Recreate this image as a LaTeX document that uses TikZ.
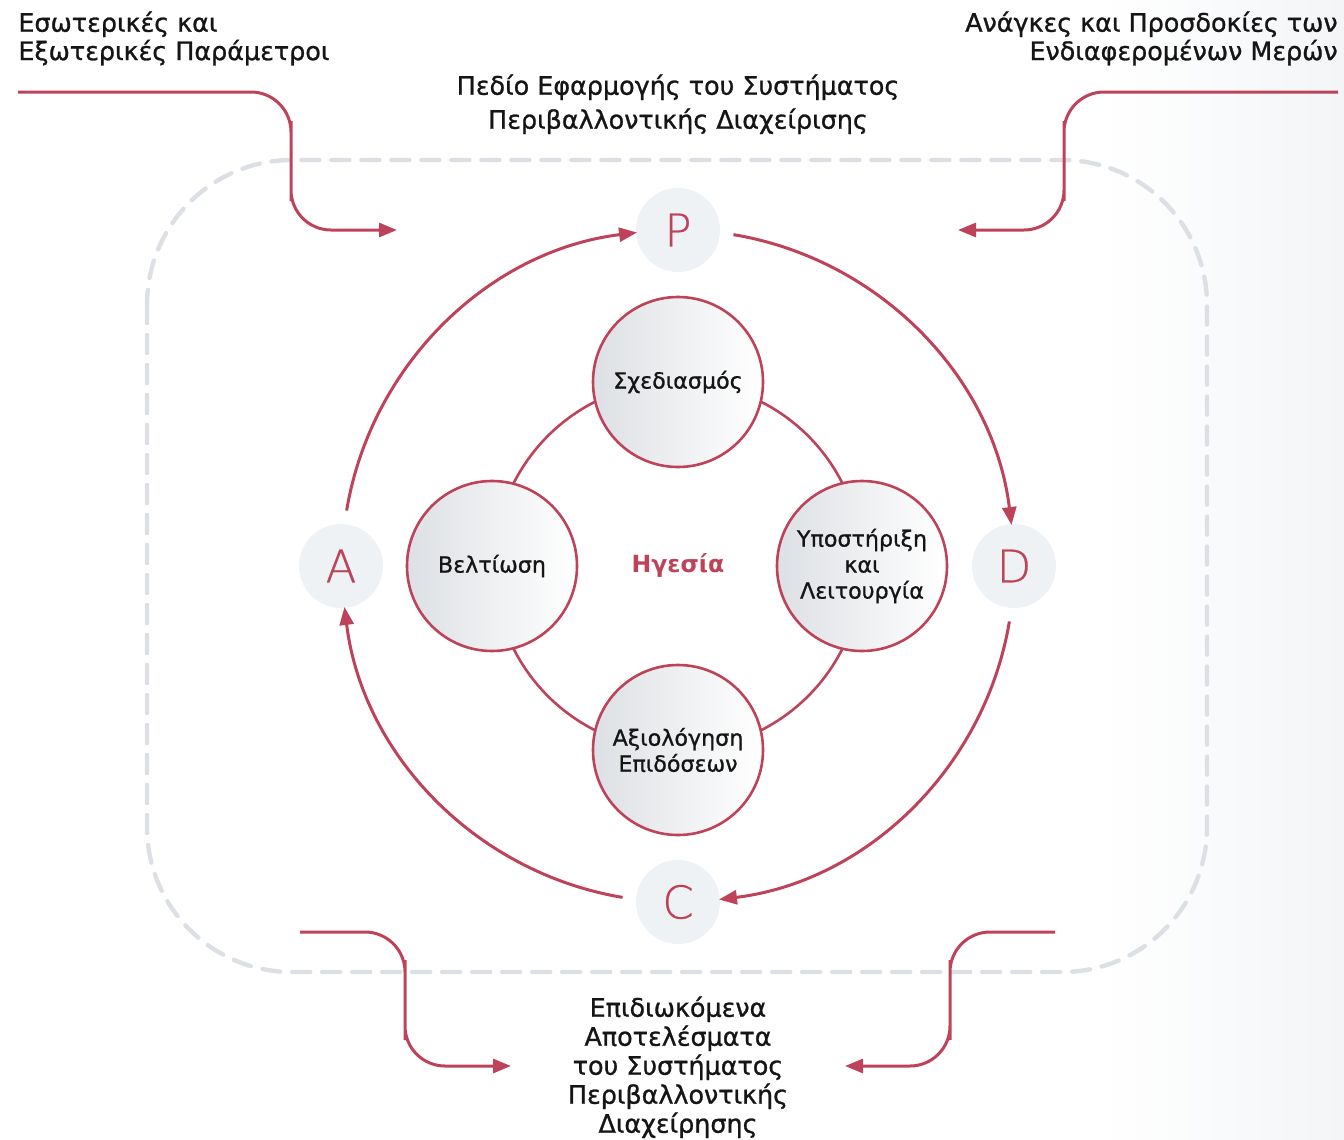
\documentclass[tikz,border=0pt]{standalone}
\usepackage{fontspec}
\setmainfont{DejaVu Sans}
\newfontfamily\thinfont{DejaVu Sans ExtraLight}[FakeBold=0.6]
\newfontfamily\midfont{DejaVu Sans}[FakeBold=1.0]
\usepackage{tikz}
\usetikzlibrary{arrows.meta}
\definecolor{wine}{HTML}{BE4259}
\definecolor{pale}{HTML}{EEF2F5}
\definecolor{dashgrey}{HTML}{DCE0E5}
\definecolor{shadegrey}{HTML}{DDE0E4}
\definecolor{edgegrey}{HTML}{F3F5F7}
\definecolor{ink}{HTML}{151515}

\begin{document}
\begin{tikzpicture}[x=0.5pt,y=-0.5pt,
	phase/.style={circle,fill=pale,minimum size=42pt,inner sep=0pt,text=wine,font=\thinfont\fontsize{22.5}{22.5}\selectfont},
	stage/.style={circle,draw=wine,line width=1.3pt,left color=shadegrey,right color=white,minimum size=85pt,inner sep=0pt,align=center,text=ink,font=\midfont\fontsize{11.1}{13}\selectfont},
	heading/.style={inner sep=0pt,text=ink,font=\midfont\fontsize{12.7}{14.2}\selectfont},
	loopline/.style={wine,line width=1.5pt,-{Triangle[length=9pt,width=7pt]}},
	feed/.style={wine,line width=1.5pt,rounded corners=20pt,-{Triangle[length=9pt,width=7pt]}},
	frame/.style={dashgrey,line width=2.2pt,line cap=round,dash pattern=on 9pt off 6pt,rounded corners=72.5pt}]
		\useasboundingbox (0,0) rectangle (1344,1140);
		\shade[left color=white,right color=edgegrey] (1100,0) rectangle (1344,1140);
		\draw[frame] (147,160) rectangle (1207,972);

		\node[heading,anchor=north west,align=left] (inside) at (18,11) {Εσωτερικές και\\Εξωτερικές Παράμετροι};
		\node[heading,anchor=north east,align=right] (needs) at (1338,11) {Ανάγκες και Προσδοκίες των\\Ενδιαφερομένων Μερών};
		\node[heading,anchor=north,align=center,font=\midfont\fontsize{12.7}{17}\selectfont] (scope) at (678,74) {Πεδίο Εφαρμογής του Συστήματος\\Περιβαλλοντικής Διαχείρισης};
		\node[heading,anchor=north,align=center,font=\midfont\fontsize{12.7}{14.5}\selectfont] (results) at (678,996) {Επιδιωκόμενα\\Αποτελέσματα\\του Συστήματος\\Περιβαλλοντικής\\Διαχείρησης};

		\coordinate (inL) at (18,92);
		\coordinate (inLtip) at (397,230);
		\coordinate (needR) at (1338,92);
		\coordinate (needRtip) at (958,230);
		\coordinate (outL) at (300,932);
		\coordinate (outLtip) at (511,1066);
		\coordinate (outR) at (1055,932);
		\coordinate (outRtip) at (845,1066);
		\draw[feed] (inL) -| (291,161) |- (inLtip);
		\draw[feed] (needR) -| (1064,161) |- (needRtip);
		\draw[feed] (outL) -| (405,1000) |- (outLtip);
		\draw[feed] (outR) -| (950,1000) |- (outRtip);

		\node[font=\bfseries\fontsize{11.8}{12}\selectfont,text=wine] (lead) at (678,566) {Ηγεσία};
		\draw[wine,line width=1.3pt] (lead.center) circle[radius=184];
		\node[stage] (plan) at (678,382) {Σχεδιασμός};
		\node[stage] (improve) at (492,566) {Βελτίωση};
		\node[stage] (support) at (862,566) {Υποστήριξη\\και\\Λειτουργία};
		\node[stage] (review) at (678,750) {Αξιολόγηση\\Επιδόσεων};

		\node[phase] (P) at (678,230) {P};
		\node[phase] (A) at (341,566) {A};
		\node[phase] (D) at (1014,566) {D};
		\node[phase] (C) at (678,902) {C};
		\draw[loopline] ([shift={(-170.5:336)}]lead.center) arc[start angle=-170.5,end angle=-97,radius=336];
		\draw[loopline] ([shift={(-80.5:336)}]lead.center) arc[start angle=-80.5,end angle=-7,radius=336];
		\draw[loopline] ([shift={(9.5:336)}]lead.center) arc[start angle=9.5,end angle=83,radius=336];
		\draw[loopline] ([shift={(99.5:336)}]lead.center) arc[start angle=99.5,end angle=173,radius=336];
\end{tikzpicture}
\end{document}
